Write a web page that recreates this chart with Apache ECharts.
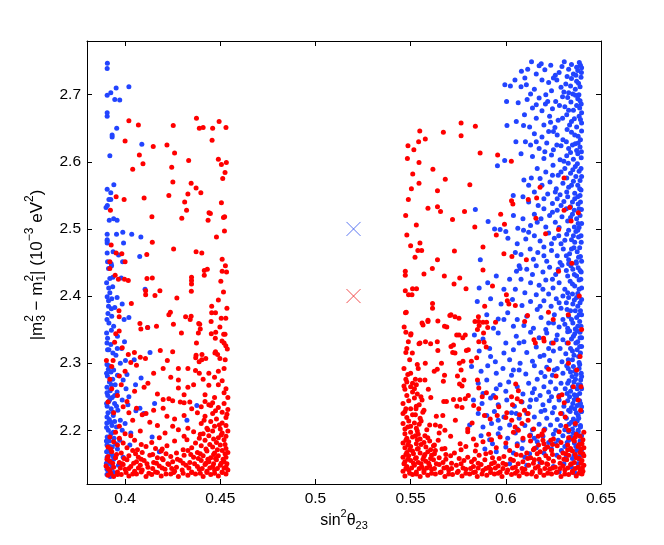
<!DOCTYPE html>
<html lang="en">
<head>
<meta charset="UTF-8">
<title>sin2 theta23 vs dm31</title>
<style>
  body { margin: 0; background: #fff; }
  #chart { width: 664px; height: 545px; }
</style>
</head>
<body>
<div id="chart"></div>
<script src="https://cdn.jsdelivr.net/npm/echarts@6/dist/echarts.min.js"></script>
<script>
const xTicks = [0.4, 0.45, 0.5, 0.55, 0.6, 0.65];
const yTicks = [2.2, 2.3, 2.4, 2.5, 2.6, 2.7];

const crossBlue = [[0.52, 2.5]];
const crossRed = [[0.52, 2.4]];

// left block, dense bottom band
const redLeftBand = [
  [.391,2.133],[.394,2.131],[.398,2.134],[.402,2.132],[.406,2.135],[.411,2.131],[.414,2.134],[.419,2.132],[.424,2.135],[.428,2.131],[.433,2.133],[.437,2.135],[.441,2.131],[.445,2.134],[.449,2.132],[.453,2.135],
  [.392,2.140],[.396,2.138],[.400,2.142],[.405,2.139],[.409,2.141],[.416,2.138],[.421,2.142],[.426,2.139],[.430,2.141],[.435,2.138],[.439,2.142],[.443,2.139],[.447,2.141],[.451,2.138],[.454,2.141],
  [.390,2.147],[.394,2.145],[.399,2.149],[.403,2.146],[.408,2.148],[.412,2.145],[.418,2.147],[.423,2.149],[.427,2.145],[.432,2.148],[.438,2.146],[.442,2.149],[.446,2.146],[.450,2.148],[.453,2.145],
  [.392,2.154],[.397,2.152],[.401,2.156],[.406,2.153],[.410,2.155],[.415,2.152],[.420,2.156],[.425,2.153],[.429,2.155],[.434,2.152],[.440,2.155],[.444,2.153],[.448,2.156],[.452,2.153],
  [.391,2.161],[.395,2.159],[.402,2.162],[.407,2.160],[.413,2.163],[.417,2.159],[.424,2.161],[.431,2.163],[.436,2.160],[.441,2.162],[.445,2.159],[.449,2.162],[.453,2.160],
  [.393,2.168],[.398,2.166],[.404,2.170],[.409,2.167],[.419,2.169],[.427,2.166],[.433,2.170],[.438,2.167],[.443,2.169],[.447,2.166],[.451,2.170],[.454,2.167],
  [.391,2.175],[.396,2.178],[.401,2.174],[.411,2.176],[.416,2.173],[.422,2.177],[.435,2.174],[.440,2.177],[.446,2.175],[.450,2.178],[.453,2.173],
  [.394,2.183],[.399,2.181],[.405,2.185],[.414,2.182],[.426,2.184],[.437,2.181],[.442,2.185],[.448,2.182],[.452,2.186],
  [.392,2.190],[.397,2.188],[.403,2.192],[.418,2.189],[.431,2.191],[.439,2.188],[.444,2.192],[.449,2.189],[.453,2.191],
  [.395,2.197],[.400,2.195],[.408,2.199],[.421,2.196],[.436,2.198],[.441,2.195],[.446,2.199],[.451,2.196],[.454,2.199],
  [.443,2.203],[.447,2.206],[.450,2.202],[.453,2.207],[.440,2.210],[.445,2.213],[.451,2.211],[.448,2.217],[.453,2.219],[.442,2.221],[.446,2.225],[.451,2.227],[.454,2.231],[.449,2.234],[.444,2.238],[.452,2.240]
];

const redLeftFill = [
  [.3925,2.136],[.396,2.134],[.4005,2.137],[.404,2.135],[.4085,2.138],[.4125,2.136],[.417,2.137],[.4215,2.135],[.4255,2.137],[.4305,2.136],[.435,2.137],[.4395,2.136],[.443,2.137],[.447,2.136],[.451,2.137],
  [.391,2.143],[.3975,2.144],[.402,2.143],[.407,2.144],[.4145,2.143],[.4195,2.144],[.4245,2.143],[.4335,2.144],[.4405,2.143],[.4445,2.144],[.4485,2.143],[.452,2.144],
  [.3935,2.151],[.3985,2.150],[.4045,2.151],[.4115,2.150],[.4165,2.151],[.4225,2.150],[.4305,2.151],[.4365,2.150],[.4425,2.151],[.4465,2.150],[.4505,2.151],[.4535,2.150],
  [.3905,2.157],[.3995,2.158],[.4085,2.157],[.4195,2.158],[.4275,2.157],[.4385,2.158],[.4435,2.157],[.4475,2.158],[.4515,2.157],
  [.3955,2.164],[.4055,2.165],[.4145,2.164],[.4215,2.165],[.4345,2.164],[.4395,2.165],[.4465,2.164],[.4525,2.165],
  [.3925,2.172],[.4065,2.171],[.4195,2.172],[.4305,2.171],[.4425,2.172],[.4485,2.171],[.4525,2.179],[.4445,2.179],[.4085,2.179],[.4325,2.186],
  [.4465,2.187],[.4505,2.193],[.4395,2.194],[.4435,2.201],[.4495,2.208],[.4415,2.215],[.4535,2.224],[.4475,2.229]
];

const redLeftMid = [
  [.403,2.301],[.406,2.297],[.408,2.309],[.415,2.285],[.420,2.292],[.424,2.279],[.428,2.292],[.433,2.292],[.439,2.285],[.444,2.285],[.449,2.288],[.452,2.292],
  [.412,2.270],[.428,2.275],[.410,2.264],[.428,2.263],[.433,2.264],[.436,2.268],[.442,2.253],[.444,2.267],[.449,2.268],[.452,2.256],[.454,2.249],
  [.420,2.246],[.423,2.247],[.425,2.244],[.429,2.242],[.431,2.241],[.434,2.242],[.440,2.235],[.442,2.243],[.445,2.237],[.447,2.249],[.446,2.241],
  [.415,2.230],[.411,2.225],[.409,2.223],[.406,2.233],[.420,2.233],[.422,2.221],[.426,2.217],[.431,2.222],[.435,2.232],[.438,2.226],
  [.413,2.212],[.417,2.207],[.425,2.206],[.428,2.201],[.433,2.203],[.404,2.215],[.401,2.243],[.405,2.258],[.398,2.268],[.397,2.281],
  [.400,2.288],[.396,2.252],[.399,2.235],[.402,2.226],[.393,2.262],[.394,2.226],[.393,2.295],[.397,2.206],[.391,2.242],[.392,2.276],
  [.437,2.289],[.447,2.279],[.441,2.276],[.451,2.274],[.453,2.262],[.417,2.254],[.431,2.253]
];

const redLeftUpper = [
  [.3948,2.431],[.3965,2.425],[.3997,2.425],[.4017,2.423],[.4115,2.426],[.4143,2.427],[.4183,2.408],[.4108,2.408],[.4108,2.402],[.4157,2.401],
  [.4272,2.397],[.4349,2.428],[.4349,2.423],[.4349,2.418],[.4348,2.407],[.4503,2.422],[.4517,2.406],[.449,2.394],[.4455,2.385],[.4535,2.382],
  [.4455,2.375],[.4475,2.375],[.4505,2.367],[.4498,2.354],[.4238,2.376],[.4318,2.369],[.4347,2.37],[.4254,2.358],[.4165,2.355],[.4118,2.353],
  [.4078,2.359],[.4083,2.351],[.4033,2.389],[.3968,2.378],[.3969,2.369],[.3951,2.344],[.3969,2.348],[.3945,2.331],[.3985,2.323],[.4049,2.316],
  [.4017,2.313],[.3937,2.304],[.3902,2.304],[.4107,2.307],[.4185,2.319],[.425,2.317],[.4222,2.304],[.4395,2.351],[.4392,2.358],[.4375,2.33],
  [.4453,2.344],[.4474,2.337],[.4509,2.333],[.4525,2.343],[.452,2.33],[.4529,2.326],[.4537,2.321],[.4475,2.317],[.4486,2.313],[.4371,2.308],
  [.4403,2.305],[.4389,2.302],[.4424,2.307],[.4498,2.307],[.4526,2.305],[.4529,2.367],[.4452,2.362],[.4387,2.359],[.4385,2.345],[.4476,2.346],
  [.4518,2.343],[.4296,2.345],[.4404,2.313],[.4472,2.315],[.4373,2.312],[.423,2.372],[.4342,2.365],[.4533,2.436],[.4432,2.44],[.4416,2.431],
  [.402,2.661],[.407,2.655],[.4375,2.665],[.439,2.650],[.441,2.651],[.446,2.650],[.4494,2.660],[.453,2.651],[.4253,2.654],[.400,2.631],
  [.4148,2.623],[.422,2.625],[.4457,2.632],[.4075,2.610],[.426,2.613],[.4094,2.597],[.404,2.589],[.4245,2.592],[.4334,2.602],[.449,2.604],
  [.4506,2.596],[.4532,2.599],[.4525,2.584],[.4513,2.575],[.4251,2.570],[.4347,2.568],[.4373,2.561],[.4398,2.554],[.433,2.552],[.423,2.550],
  [.3953,2.548],[.3995,2.544],[.410,2.546],[.4313,2.540],[.4506,2.539],[.4323,2.528],[.3923,2.528],[.4441,2.524],[.4448,2.523],[.4517,2.517],
  [.4523,2.518],[.4298,2.516],[.4141,2.518],[.4436,2.513],[.4522,2.497],[.448,2.488],[.4143,2.480],[.4255,2.470],[.3927,2.476],[.4373,2.466],
  [.4403,2.464],[.4114,2.462],[.3953,2.464],[.3983,2.463],[.400,2.451],[.451,2.455],[.4527,2.445],[.392,2.451],[.392,2.441],[.4416,2.438],[.451,2.437]
];

// right block, dense bottom band and left column
const redRightBand = [
  [.547,2.132],[.551,2.134],[.555,2.131],[.559,2.133],[.563,2.135],[.568,2.131],[.572,2.134],[.577,2.132],[.581,2.135],[.585,2.131],[.590,2.133],[.594,2.135],[.598,2.131],[.603,2.134],[.607,2.132],[.611,2.135],[.616,2.131],[.620,2.133],[.624,2.135],[.629,2.131],[.633,2.134],[.637,2.132],[.640,2.135],
  [.546,2.139],[.549,2.141],[.553,2.138],[.557,2.140],[.561,2.142],[.566,2.138],[.570,2.141],[.575,2.139],[.579,2.142],[.584,2.138],[.588,2.140],[.592,2.142],[.597,2.138],[.601,2.141],[.606,2.139],[.610,2.142],[.614,2.138],[.618,2.140],[.623,2.142],[.627,2.138],[.631,2.141],[.635,2.139],[.639,2.142],
  [.548,2.146],[.552,2.148],[.556,2.145],[.560,2.147],[.565,2.149],[.569,2.145],[.574,2.148],[.583,2.146],[.587,2.149],[.591,2.145],[.596,2.147],[.600,2.149],[.605,2.145],[.612,2.148],[.617,2.146],[.622,2.149],[.626,2.145],[.630,2.147],[.634,2.149],[.638,2.145],[.641,2.148],
  [.547,2.153],[.550,2.155],[.554,2.152],[.558,2.154],[.562,2.156],[.567,2.152],[.578,2.155],[.582,2.153],[.589,2.156],[.594,2.152],[.604,2.155],[.609,2.153],[.615,2.156],[.619,2.152],[.625,2.154],[.632,2.156],[.636,2.152],[.640,2.155],
  [.546,2.160],[.549,2.162],[.553,2.159],[.557,2.161],[.561,2.163],[.565,2.159],[.571,2.162],[.580,2.160],[.586,2.163],[.593,2.159],[.599,2.161],[.608,2.163],[.613,2.159],[.621,2.162],[.628,2.160],[.633,2.163],[.637,2.159],[.641,2.162],
  [.548,2.167],[.551,2.169],[.555,2.166],[.559,2.168],[.563,2.170],[.573,2.166],[.584,2.169],[.592,2.167],[.602,2.170],[.611,2.166],[.618,2.168],[.624,2.170],[.630,2.166],[.635,2.169],[.639,2.167],
  [.547,2.174],[.550,2.176],[.554,2.173],[.558,2.175],[.562,2.177],[.568,2.173],[.579,2.176],[.595,2.174],[.606,2.177],[.615,2.173],[.622,2.175],[.627,2.177],[.634,2.173],[.638,2.176],[.641,2.174],
  [.546,2.181],[.549,2.183],[.553,2.180],[.557,2.182],[.560,2.184],[.576,2.180],[.588,2.183],[.600,2.181],[.613,2.184],[.620,2.180],[.629,2.182],[.636,2.184],[.640,2.180],
  [.548,2.188],[.551,2.190],[.555,2.187],[.559,2.189],[.571,2.191],[.583,2.187],[.597,2.190],[.609,2.188],[.617,2.191],[.625,2.187],[.633,2.189],[.639,2.191],
  [.547,2.195],[.550,2.197],[.554,2.194],[.565,2.196],[.580,2.198],[.591,2.194],[.604,2.197],[.619,2.195],[.628,2.198],[.637,2.194],[.641,2.197],
  [.547,2.202],[.550,2.206],[.553,2.203],[.546,2.210],[.549,2.214],[.552,2.211],[.548,2.219],[.551,2.223],[.547,2.228],[.550,2.232],[.553,2.236],[.546,2.240],[.549,2.244],
  [.552,2.248],[.548,2.252],[.551,2.257],[.547,2.261],[.550,2.265],[.553,2.268],[.548,2.272],[.551,2.270],[.546,2.225],[.555,2.218],[.556,2.245],[.557,2.230]
];

const redRightFill = [
  [.5495,2.136],[.553,2.135],[.557,2.137],[.561,2.136],[.5655,2.137],[.570,2.135],[.5745,2.137],[.579,2.136],[.583,2.137],[.5875,2.135],[.592,2.137],[.596,2.136],
  [.6005,2.137],[.605,2.136],[.609,2.137],[.6135,2.135],[.618,2.137],[.622,2.136],[.6265,2.137],[.631,2.135],[.635,2.137],[.6385,2.136],[.6405,2.139],
  [.5475,2.143],[.5505,2.144],[.5545,2.143],[.5585,2.144],[.5625,2.143],[.5675,2.144],[.5715,2.143],[.5775,2.144],[.5815,2.143],[.5855,2.144],[.5895,2.143],
  [.5945,2.144],[.5985,2.143],[.6035,2.144],[.6085,2.143],[.6155,2.144],[.6205,2.143],[.6245,2.144],[.6285,2.143],[.6325,2.144],[.6365,2.143],[.6402,2.144],
  [.5465,2.150],[.5515,2.151],[.5555,2.150],[.5595,2.151],[.5635,2.150],[.5715,2.151],[.5765,2.150],[.5855,2.151],[.5925,2.150],[.5985,2.151],[.6065,2.150],
  [.6145,2.151],[.6215,2.150],[.6285,2.151],[.6345,2.150],[.6395,2.151],
  [.5485,2.157],[.5525,2.158],[.5565,2.157],[.5605,2.158],[.5685,2.157],[.5755,2.158],[.5835,2.157],[.5965,2.158],[.6025,2.157],[.6115,2.158],[.6175,2.157],
  [.6225,2.158],[.6305,2.157],[.6385,2.158],
  [.5475,2.164],[.5515,2.165],[.5575,2.164],[.5625,2.165],[.5685,2.164],[.5895,2.165],[.6055,2.164],[.6165,2.165],[.6245,2.164],[.6315,2.165],[.6365,2.164],[.6405,2.165],
  [.5495,2.171],[.5535,2.172],[.5605,2.171],[.5665,2.172],[.5765,2.171],[.6145,2.171],[.6205,2.172],[.6325,2.171],[.6395,2.172],
  [.5485,2.178],[.5555,2.179],[.5625,2.178],[.5845,2.178],[.6245,2.179],[.6325,2.178],[.6385,2.179],
  [.5475,2.185],[.5535,2.186],[.5645,2.185],[.5925,2.186],[.6195,2.185],[.6355,2.186],[.6405,2.186],
  [.5525,2.192],[.5575,2.192],[.6125,2.192],[.6365,2.190],
  [.5535,2.199],[.5585,2.201],[.5485,2.205],[.5545,2.209],[.5555,2.214],[.5475,2.232],[.5525,2.223],[.5545,2.238],[.5535,2.254],[.5465,2.266],
  [.5525,2.276],[.5485,2.283],[.5465,2.292],[.5535,2.298],[.5495,2.305],[.5475,2.316]
];

const redRightMid = [
  [.554,2.292],[.5624,2.288],[.5640,2.291],[.5575,2.275],[.5549,2.275],[.5593,2.261],[.5475,2.276],[.5500,2.285],[.5520,2.262],[.5678,2.282],
  [.5672,2.273],[.5746,2.281],[.578,2.275],[.5757,2.269],[.5770,2.266],[.5606,2.249],[.5674,2.243],[.5688,2.243],[.5725,2.246],[.5759,2.246],
  [.5787,2.247],[.5743,2.236],[.5770,2.234],[.5858,2.232],[.5876,2.250],[.5888,2.222],[.5918,2.217],[.5851,2.275],[.5858,2.263],[.5898,2.256],
  [.5947,2.249],[.5963,2.235],[.5955,2.222],[.6005,2.226],[.600,2.219],[.5803,2.252],[.5831,2.237],[.5735,2.215],[.580,2.202],[.5823,2.211],
  [.5669,2.222],[.5635,2.221],[.5600,2.208],[.5630,2.208],[.5655,2.206],[.568,2.200],[.5554,2.250],[.5528,2.232],[.5564,2.227],[.6031,2.215],
  [.6049,2.205],[.6072,2.223],[.6066,2.200],[.5765,2.290],[.6052,2.269],[.6066,2.259],[.6060,2.247],[.6098,2.230],[.6117,2.215],[.6146,2.202],
  [.619,2.193],[.6225,2.291],[.6264,2.281],[.6278,2.250],[.6295,2.253],[.6288,2.225],[.6312,2.220],[.6307,2.241],[.6316,2.206],[.6330,2.200],
  [.6030,2.250],[.6035,2.238],[.6080,2.243],[.6117,2.225],[.6085,2.210],[.6200,2.200],[.6236,2.185],[.6172,2.178],[.6355,2.265],[.6390,2.310],
  [.6393,2.230],[.6380,2.245],[.6365,2.210],[.6395,2.265],[.6372,2.290],[.6398,2.350],[.6386,2.400],
  [.5472,2.431],[.557,2.433],[.5677,2.430],[.5758,2.427],[.5728,2.418],[.5791,2.411],[.5889,2.385],[.593,2.415],[.6003,2.402],[.605,2.386],
  [.6008,2.393],[.5472,2.408],[.5489,2.402],[.5507,2.402],[.551,2.411],[.5531,2.411],[.5477,2.376],[.5466,2.354],[.5475,2.346],[.5615,2.389],
  [.5615,2.382],[.5591,2.362],[.5565,2.357],[.5643,2.363],[.569,2.354],[.5712,2.372],[.5754,2.367],[.5754,2.342],[.5787,2.342],[.5857,2.362],
  [.5880,2.361],[.5899,2.361],[.5946,2.361],[.5860,2.356],[.5883,2.345],[.5905,2.353],[.5886,2.331],[.5897,2.324],[.5500,2.342],[.5544,2.329],
  [.5605,2.329],[.5640,2.332],[.5643,2.319],[.5725,2.327],[.5733,2.315],[.5803,2.320],[.5847,2.308],[.6114,2.371],[.6099,2.362],[.6224,2.376],
  [.6249,2.365],[.6198,2.337],[.6201,2.333],[.6249,2.330],[.5473,2.375],[.5502,2.344],[.5488,2.332],[.548,2.322],[.5509,2.315],[.556,2.360],
  [.5591,2.364],[.5549,2.330],[.5578,2.332],[.5678,2.355],[.5706,2.371],[.5733,2.369],[.5742,2.342],[.5774,2.338],[.5712,2.325],[.5721,2.316],
  [.5793,2.319],[.5838,2.362],[.5851,2.350],[.5856,2.369],[.5858,2.332],[.5775,2.303],[.5819,2.303],[.5756,2.300],[.5662,2.300],[.5577,2.300],
  [.6016,2.388],[.6148,2.335],[.6155,2.330],[.6328,2.372],[.6328,2.330],[.6329,2.300]
];

const redRightUpper = [
  [.5765,2.658],[.584,2.653],[.5548,2.646],[.5672,2.644],[.5765,2.639],[.5577,2.634],[.5486,2.624],[.5542,2.630],[.5517,2.618],[.5865,2.613],
  [.5957,2.610],[.5483,2.605],[.5544,2.599],[.6029,2.601],[.5617,2.589],[.5511,2.582],[.5682,2.574],[.5544,2.568],[.5811,2.566],[.5504,2.560],
  [.5641,2.557],[.6306,2.576],[.618,2.562],[.5488,2.544],[.603,2.542],[.6037,2.537],[.6118,2.544],[.6162,2.546],[.5591,2.531],[.5641,2.533],
  [.5657,2.526],[.5474,2.520],[.5783,2.526],[.5973,2.522],[.6336,2.532],[.6381,2.524],[.6306,2.528],[.6158,2.516],[.572,2.514],[.553,2.506],
  [.5993,2.507],[.6343,2.512],[.5837,2.503],[.6277,2.499],[.6209,2.493],[.595,2.491],[.548,2.491],[.5549,2.479],[.550,2.475],[.5538,2.468],
  [.5558,2.468],[.573,2.467],[.588,2.473],[.5523,2.458],[.5641,2.454],[.599,2.463],[.6032,2.459],[.6108,2.454],[.6347,2.449],[.5614,2.441],
  [.588,2.439],[.5472,2.437],[.6277,2.437]
];

const blueLeft = [
  [.3907,2.747],[.3906,2.739],[.3906,2.699],[.3925,2.703],[.3953,2.710],[.402,2.712],[.3946,2.693],[.3972,2.692],[.3906,2.668],[.3906,2.673],
  [.3956,2.650],[.3932,2.640],[.3932,2.637],[.4088,2.626],[.392,2.609],[.3941,2.566],[.3906,2.559],[.3925,2.554],[.3915,2.544],[.3925,2.544],
  [.3907,2.535],[.390,2.532],[.3917,2.513],[.394,2.515],[.3958,2.513],[.3906,2.492],[.3955,2.492],[.3988,2.495],[.4035,2.492],[.4083,2.488],
  [.3906,2.484],[.3906,2.482],[.3906,2.479],[.3992,2.479],[.3906,2.464],[.3937,2.466],[.3966,2.461],[.4077,2.459],[.3908,2.451],[.3927,2.448],
  [.3929,2.445],[.3987,2.451],[.3913,2.441],
  [.392,2.426],[.3936,2.428],[.398,2.427],[.3914,2.412],[.3935,2.414],[.3958,2.398],[.3906,2.399],[.3913,2.393],[.393,2.396],[.3985,2.388],
  [.3995,2.365],[.402,2.368],[.4105,2.41],[.4119,2.353],[.3913,2.385],[.391,2.374],[.3928,2.381],[.3946,2.383],[.3915,2.360],[.3928,2.349],
  [.3908,2.337],[.3905,2.330],[.3915,2.320],[.3936,2.315],[.3959,2.322],[.3982,2.322],[.3997,2.332],[.3952,2.312],[.4002,2.304],[.4048,2.305],
  [.4084,2.278],[.4131,2.316],[.4155,2.240],[.4377,2.237],[.4325,2.215],[.4142,2.19],[.418,2.168],[.4078,2.233],[.4098,2.225],[.4057,2.229],
  [.3905,2.298],[.3912,2.291],[.3926,2.287],[.3907,2.281],[.3935,2.276],[.3918,2.272],[.3948,2.268],[.3905,2.264],[.3922,2.259],[.3958,2.257],
  [.3909,2.252],[.3932,2.249],[.3914,2.243],[.3945,2.240],[.3906,2.236],[.3927,2.232],[.3962,2.230],[.3910,2.226],[.3938,2.222],[.3917,2.216],
  [.3904,2.211],[.3931,2.207],[.3955,2.205],[.3912,2.200],[.3926,2.195],[.3906,2.190],[.3942,2.188],[.3918,2.184],[.3905,2.178],[.3933,2.175],
  [.3960,2.172],[.3911,2.170],[.3925,2.165],[.3906,2.160],[.3940,2.157],[.3916,2.153],[.3904,2.147],[.3930,2.144],[.3912,2.139],[.3905,2.134],
  [.3922,2.131],[.3975,2.215],[.3985,2.245],[.3972,2.185],[.4005,2.262],[.4010,2.283],[.4030,2.196],[.3990,2.160],[.4055,2.268],[.4015,2.238],
  [.3915,2.296],[.3940,2.290],[.3903,2.285],[.3960,2.282],[.3928,2.268],[.3905,2.256],[.3945,2.252],[.3920,2.246],[.3903,2.240],[.3955,2.236],
  [.3935,2.227],[.3905,2.220],[.3925,2.212],[.3945,2.213],[.3903,2.204],[.3938,2.197],[.3920,2.190],[.3902,2.184],[.3950,2.180],[.3920,2.176],
  [.3903,2.168],[.3935,2.162],[.3910,2.158],[.3902,2.151],[.3925,2.150],[.3940,2.137],[.3905,2.142],[.3918,2.136],[.3908,2.320],[.3925,2.328],
  [.3903,2.345],[.3940,2.355],[.3905,2.365],[.3930,2.370],[.3920,2.405],[.3903,2.420],[.3960,2.340],[.3975,2.300],[.3990,2.275],[.4020,2.250],
  [.4000,2.210],[.3985,2.200],[.4025,2.178],[.3965,2.148]
];

const blueRight = [
  [.6135,2.749],[.6186,2.746],[.6236,2.744],[.6307,2.749],[.6386,2.748],[.6392,2.744],[.6082,2.735],[.6115,2.738],[.6160,2.731],[.6205,2.737],
  [.6260,2.729],[.6280,2.733],[.6330,2.738],[.6355,2.731],[.6378,2.736],[.6398,2.740],[.6048,2.722],[.6100,2.725],[.6190,2.722],[.6225,2.718],
  [.6268,2.722],[.6315,2.716],[.6345,2.724],[.6372,2.720],[.6395,2.726],[.5995,2.715],[.6024,2.713],[.608,2.712],[.6150,2.708],[.6240,2.706],
  [.6290,2.711],[.6330,2.703],[.6365,2.708],[.6390,2.712],[.6130,2.701],[.6210,2.700],[.6384,2.700],
  [.6004,2.690],[.6065,2.688],[.6112,2.693],[.6175,2.695],[.6208,2.686],[.6262,2.690],[.6298,2.697],[.6342,2.689],[.6378,2.694],[.6396,2.686],
  [.6140,2.680],[.6190,2.676],[.6245,2.679],[.6310,2.682],[.6355,2.677],[.6388,2.680],[.6055,2.660],[.6006,2.654],[.6093,2.654],[.6160,2.665],
  [.6230,2.668],[.6275,2.662],[.6320,2.670],[.6360,2.664],[.6385,2.668],[.6398,2.658],[.6125,2.652],[.6200,2.655],[.6258,2.651],[.6335,2.655],[.6372,2.652],
  [.6053,2.630],[.6103,2.630],[.6150,2.642],[.6190,2.637],[.6225,2.645],[.6270,2.640],[.6300,2.633],[.6345,2.644],[.6380,2.638],[.6398,2.646],
  [.6130,2.625],[.6175,2.620],[.6215,2.628],[.6250,2.618],[.6290,2.624],[.6330,2.620],[.6365,2.627],[.6390,2.622],[.5956,2.594],[.5994,2.602],
  [.6080,2.612],[.6140,2.608],[.6200,2.605],[.6240,2.610],[.6285,2.603],[.6320,2.609],[.6355,2.604],[.6378,2.612],[.6396,2.606],
  [.6095,2.573],[.6134,2.576],[.6039,2.550],[.609,2.548],[.6165,2.590],[.6210,2.585],[.6248,2.595],[.6275,2.580],[.6310,2.590],[.6340,2.583],
  [.6365,2.593],[.6385,2.586],[.6398,2.578],[.6190,2.565],[.6232,2.570],[.6265,2.560],[.6300,2.568],[.6330,2.562],[.6355,2.571],[.6378,2.565],
  [.6395,2.558],[.6150,2.555],[.6220,2.552],[.6285,2.551],[.6320,2.555],[.6362,2.553],[.6390,2.550],
  [.584,2.529],[.5907,2.511],[.6063,2.501],[.6120,2.540],[.6170,2.535],[.6200,2.545],[.6245,2.538],[.6270,2.528],[.6305,2.541],[.6340,2.533],
  [.6362,2.545],[.6380,2.537],[.6397,2.529],[.6150,2.522],[.6185,2.515],[.6230,2.520],[.6260,2.510],[.6295,2.518],[.6325,2.512],[.6350,2.522],
  [.6372,2.515],[.6390,2.520],[.6398,2.508],[.6090,2.515],[.6130,2.505],[.6210,2.503],[.6280,2.502],[.6360,2.503],[.6385,2.502],
  [.5941,2.500],[.597,2.499],[.600,2.496],[.6011,2.486],[.6093,2.498],[.5866,2.454],[.6060,2.478],[.6105,2.485],[.6150,2.490],[.6180,2.482],
  [.6225,2.494],[.6255,2.486],[.6290,2.478],[.6320,2.492],[.6345,2.484],[.6368,2.496],[.6382,2.488],[.6396,2.480],[.6128,2.470],[.6168,2.465],
  [.6200,2.473],[.6240,2.468],[.6270,2.460],[.6302,2.470],[.6335,2.463],[.6358,2.472],[.6375,2.466],[.6392,2.459],[.6080,2.462],[.6145,2.455],
  [.6215,2.452],[.6285,2.450],[.6330,2.454],[.6370,2.451],[.6398,2.452],
  [.6056,2.437],[.607,2.445],[.6075,2.441],[.5950,2.430],[.5905,2.420],[.6020,2.425],[.6110,2.440],[.6160,2.445],[.6195,2.436],[.6230,2.443],
  [.6262,2.432],[.6295,2.446],[.6318,2.438],[.6342,2.445],[.6360,2.432],[.6380,2.442],[.6396,2.436],[.6130,2.420],[.6175,2.416],[.6210,2.424],
  [.6248,2.412],[.6280,2.420],[.6310,2.410],[.6338,2.422],[.6362,2.415],[.6385,2.424],[.6398,2.412],[.6050,2.410],[.6100,2.405],[.6160,2.402],
  [.6225,2.403],[.6300,2.400],[.6350,2.403],[.6378,2.404],[.5860,2.412],
  [.5850,2.392],[.5920,2.396],[.5975,2.388],[.6035,2.395],[.6085,2.386],[.6130,2.392],[.6165,2.380],[.6200,2.393],[.6238,2.385],[.6265,2.396],
  [.6290,2.382],[.6318,2.390],[.6340,2.378],[.6360,2.394],[.6378,2.385],[.6392,2.378],[.6398,2.395],[.5900,2.372],[.5960,2.366],[.6010,2.375],
  [.6060,2.365],[.6110,2.370],[.6185,2.368],[.6225,2.360],[.6255,2.372],[.6300,2.365],[.6330,2.370],[.6352,2.360],[.6372,2.368],[.6388,2.362],
  [.6398,2.372],[.5935,2.352],[.6040,2.355],[.6145,2.352],[.6210,2.350],[.6280,2.354],[.6325,2.352],[.6365,2.351],[.6395,2.355],
  [.5835,2.342],[.5880,2.336],[.5960,2.345],[.6000,2.330],[.6055,2.340],[.6095,2.332],[.6130,2.346],[.6175,2.338],[.6215,2.345],[.6240,2.330],
  [.6270,2.342],[.6300,2.335],[.6325,2.347],[.6345,2.336],[.6362,2.344],[.6378,2.332],[.6390,2.346],[.6398,2.338],[.5860,2.318],[.5915,2.322],
  [.5990,2.315],[.6040,2.320],[.6110,2.316],[.6160,2.324],[.6200,2.312],[.6250,2.318],[.6285,2.322],[.6315,2.314],[.6340,2.322],[.6358,2.312],
  [.6375,2.320],[.6392,2.315],[.6398,2.325],[.5945,2.302],[.6020,2.305],[.6075,2.300],[.6140,2.303],[.6230,2.304],[.6295,2.302],[.6350,2.305],[.6385,2.301],
  [.5820,2.295],[.5870,2.288],[.5905,2.296],[.5950,2.285],[.5985,2.292],[.6030,2.282],[.6070,2.290],[.6105,2.284],[.6150,2.296],[.6185,2.286],
  [.6215,2.294],[.6245,2.282],[.6270,2.292],[.6300,2.285],[.6320,2.296],[.6340,2.287],[.6355,2.295],[.6370,2.283],[.6385,2.292],[.6396,2.285],
  [.5855,2.270],[.5900,2.275],[.5970,2.268],[.6015,2.272],[.6060,2.265],[.6120,2.270],[.6165,2.276],[.6200,2.265],[.6235,2.272],[.6262,2.262],
  [.6290,2.270],[.6312,2.262],[.6332,2.274],[.6350,2.265],[.6366,2.276],[.6380,2.268],[.6393,2.275],[.6398,2.262],[.5880,2.255],[.5935,2.252],
  [.6000,2.258],[.6090,2.254],[.6140,2.256],[.6180,2.252],[.6225,2.257],[.6280,2.252],[.6322,2.255],[.6360,2.253],[.6388,2.255],
  [.5830,2.245],[.5875,2.240],[.5920,2.248],[.5960,2.238],[.6005,2.245],[.6045,2.236],[.6085,2.242],[.6125,2.235],[.6160,2.246],[.6195,2.238],
  [.6228,2.244],[.6255,2.234],[.6280,2.245],[.6305,2.236],[.6325,2.244],[.6345,2.234],[.6360,2.246],[.6375,2.237],[.6388,2.244],[.6398,2.235],
  [.5855,2.225],[.5900,2.222],[.5940,2.228],[.5990,2.220],[.6030,2.226],[.6070,2.218],[.6110,2.225],[.6150,2.220],[.6185,2.228],[.6215,2.218],
  [.6245,2.226],[.6270,2.216],[.6295,2.225],[.6318,2.218],[.6338,2.228],[.6355,2.217],[.6370,2.226],[.6383,2.218],[.6395,2.228],[.5810,2.208],
  [.5880,2.205],[.5925,2.210],[.5970,2.203],[.6020,2.208],[.6060,2.202],[.6100,2.207],[.6140,2.201],[.6175,2.209],[.6205,2.202],[.6235,2.208],
  [.6262,2.200],[.6288,2.207],[.6310,2.201],[.6332,2.209],[.6350,2.202],[.6365,2.208],[.6380,2.200],[.6392,2.207],
  [.5870,2.192],[.5915,2.186],[.5960,2.195],[.6010,2.188],[.6050,2.196],[.6090,2.185],[.6130,2.193],[.6165,2.183],[.6195,2.191],[.6225,2.182],
  [.6250,2.194],[.6275,2.185],[.6300,2.192],[.6322,2.182],[.6342,2.190],[.6360,2.181],[.6375,2.193],[.6390,2.184],[.6398,2.192],[.5890,2.172],
  [.5950,2.168],[.6000,2.175],[.6040,2.166],[.6085,2.173],[.6125,2.165],[.6160,2.174],[.6200,2.166],[.6240,2.172],[.6268,2.163],[.6292,2.170],
  [.6318,2.162],[.6340,2.171],[.6358,2.163],[.6372,2.170],[.6387,2.161],[.6397,2.170],[.6020,2.150],[.6110,2.148],[.6180,2.152],[.6250,2.146],
  [.6305,2.150],[.6345,2.145],[.6380,2.150],[.6395,2.142],[.6280,2.138],[.6365,2.136]
];

const blueRightFill = [
  [.6295,2.742],[.6345,2.745],[.6372,2.741],[.6322,2.727],[.6368,2.729],[.6397,2.733],[.6340,2.713],[.6382,2.717],[.6305,2.704],[.6352,2.701],[.6175,2.743],[.6250,2.725],[.6108,2.715],
  [.6325,2.696],[.6366,2.699],[.6390,2.691],[.6282,2.684],[.6330,2.677],[.6372,2.684],[.6398,2.673],[.6298,2.665],[.6345,2.660],[.6392,2.663],[.6220,2.690],[.6160,2.685],[.6235,2.659],[.6098,2.670],
  [.6322,2.648],[.6362,2.640],[.6392,2.633],[.6318,2.630],[.6350,2.625],[.6380,2.628],[.6340,2.614],[.6372,2.617],[.6397,2.615],[.6305,2.601],[.6268,2.625],[.6205,2.615],[.6160,2.630],[.6250,2.645],
  [.6328,2.598],[.6352,2.588],[.6376,2.597],[.6395,2.590],[.6320,2.576],[.6368,2.578],[.6390,2.572],[.6345,2.565],[.6388,2.560],[.6290,2.585],[.6245,2.580],[.6180,2.575],[.6260,2.555],[.6120,2.565],
  [.6325,2.548],[.6350,2.540],[.6378,2.548],[.6392,2.540],[.6318,2.530],[.6360,2.528],[.6385,2.530],[.6340,2.517],[.6380,2.508],[.6290,2.535],[.6245,2.525],[.6200,2.530],[.6270,2.545],[.6165,2.510],[.6040,2.520],
  [.6330,2.498],[.6355,2.490],[.6378,2.498],[.6395,2.490],[.6310,2.483],[.6362,2.480],[.6388,2.472],[.6345,2.470],[.6318,2.460],[.6382,2.458],[.6278,2.490],[.6240,2.478],[.6200,2.460],[.6120,2.495],[.6050,2.465],
  [.6330,2.448],[.6352,2.440],[.6370,2.449],[.6390,2.438],[.6325,2.430],[.6372,2.430],[.6394,2.425],[.6350,2.418],[.6385,2.410],[.6325,2.405],[.6275,2.440],[.6245,2.425],[.6195,2.410],[.6140,2.432],[.6080,2.425],[.5990,2.410],
  [.6330,2.398],[.6352,2.388],[.6372,2.398],[.6390,2.390],[.6322,2.380],[.6365,2.378],[.6385,2.372],[.6345,2.365],[.6378,2.355],[.6310,2.358],[.6280,2.390],[.6250,2.360],[.6180,2.385],[.6095,2.356],[.5990,2.365],
  [.6335,2.348],[.6355,2.340],[.6375,2.348],[.6390,2.338],[.6322,2.330],[.6368,2.330],[.6388,2.325],[.6350,2.318],[.6382,2.310],[.6328,2.305],[.6265,2.335],[.6225,2.322],[.6180,2.310],[.6070,2.330],[.5920,2.310],
  [.6328,2.292],[.6348,2.280],[.6362,2.288],[.6388,2.298],[.6398,2.280],[.6325,2.270],[.6358,2.272],[.6375,2.262],[.6392,2.268],[.6340,2.258],[.6372,2.252],[.6255,2.290],[.6205,2.280],[.6150,2.262],[.6040,2.290],[.5950,2.262],
  [.6335,2.250],[.6352,2.240],[.6370,2.248],[.6392,2.240],[.6330,2.230],[.6362,2.232],[.6380,2.222],[.6398,2.228],[.6345,2.212],[.6375,2.214],[.6392,2.205],[.6240,2.250],[.6205,2.230],[.6130,2.245],[.6055,2.225],[.5960,2.215],
  [.6330,2.198],[.6355,2.196],[.6380,2.198],[.6398,2.180],[.6330,2.185],[.6368,2.176],[.6390,2.170],[.6350,2.158],[.6385,2.157],[.6310,2.176],[.6260,2.180],[.6215,2.175],[.6150,2.188],[.6060,2.180],[.5930,2.180],[.6100,2.160]
];

const FONT = '"Liberation Sans", Arial, Helvetica, sans-serif';
const chart = echarts.init(document.getElementById('chart'));

const ctx = document.createElement('canvas').getContext('2d');
function measure(text, size) {
  ctx.font = size + 'px ' + FONT;
  return ctx.measureText(text).width;
}

// pieces: [text, fontSize, dy, stacked-with-next]
function mathLabel(pieces, cx, cy, rotation) {
  const items = [];
  let x = 0;
  for (let i = 0; i < pieces.length; i++) {
    const [t, s, dy, stack] = pieces[i];
    items.push({ t, s, dy, x });
    let w = measure(t, s);
    if (stack) {
      const [t2, s2, dy2] = pieces[++i];
      items.push({ t: t2, s: s2, dy: dy2, x });
      w = Math.max(w, measure(t2, s2));
    }
    x += w;
  }
  return {
    type: 'group', x: cx, y: cy, rotation: rotation,
    children: items.map(p => ({
      type: 'text', x: p.x - x / 2, y: p.dy,
      style: { text: p.t, fontSize: p.s, fontFamily: FONT, fill: '#000', align: 'left', verticalAlign: 'middle' }
    }))
  };
}

const yTitle = [
  ['|m', 17, 0], ['2', 12, -7, true], ['3', 12, 5],
  [' \u2212 m', 17, 0], ['2', 12, -7, true], ['1', 12, 5],
  ['| (10', 17, 0], ['\u22123', 12, -7], [' eV', 17, 0], ['2', 12, -7], [')', 17, 0]
];
const xTitle = [['sin', 16, 0], ['2', 11, -7], ['\u03b8', 16, 0], ['23', 11, 5]];

function axisX(pos) {
  return {
    type: 'value', position: pos, min: 0.38, max: 0.65,
    axisLine: { onZero: false, lineStyle: { color: '#000', width: 1 } },
    axisTick: { inside: true, length: 5, customValues: xTicks, lineStyle: { color: '#000' } },
    axisLabel: { show: pos === 'bottom', customValues: xTicks, color: '#000', fontSize: 15.5, fontFamily: FONT, margin: 7 },
    splitLine: { show: false }
  };
}
function axisY(pos) {
  return {
    type: 'value', position: pos, min: 2.12, max: 2.78,
    axisLine: { onZero: false, lineStyle: { color: '#000', width: 1 } },
    axisTick: { inside: true, length: 5, customValues: yTicks, lineStyle: { color: '#000' } },
    axisLabel: { show: pos === 'left', customValues: yTicks, color: '#000', fontSize: 15.5, fontFamily: FONT, margin: 6 },
    splitLine: { show: false }
  };
}

function dots(data, color) {
  return {
    type: 'scatter', data: data, symbolSize: 5, silent: true,
    itemStyle: { color: color, opacity: 1 }
  };
}
function cross(data, color) {
  return {
    type: 'scatter', data: data, symbol: 'path://M0 0L10 10M10 0L0 10', symbolSize: 14, silent: true,
    itemStyle: { color: 'none', borderColor: color, borderWidth: 1 }
  };
}

chart.setOption({
  animation: false,
  backgroundColor: '#fff',
  grid: { left: 87, right: 63, top: 41, bottom: 61 },
  xAxis: [axisX('bottom'), axisX('top')],
  yAxis: [axisY('left'), axisY('right')],
  series: [
    dots(blueLeft.concat(blueRight, blueRightFill), '#2244ff'),
    dots(redLeftBand.concat(redLeftFill, redLeftMid, redLeftUpper, redRightBand, redRightFill, redRightMid, redRightUpper), '#ff0000'),
    cross(crossBlue, '#3355ee'),
    cross(crossRed, '#ee2222')
  ],
  graphic: [
    mathLabel(yTitle, 37, 265, Math.PI / 2),
    mathLabel(xTitle, 344, 521, 0)
  ]
});
</script>
</body>
</html>
